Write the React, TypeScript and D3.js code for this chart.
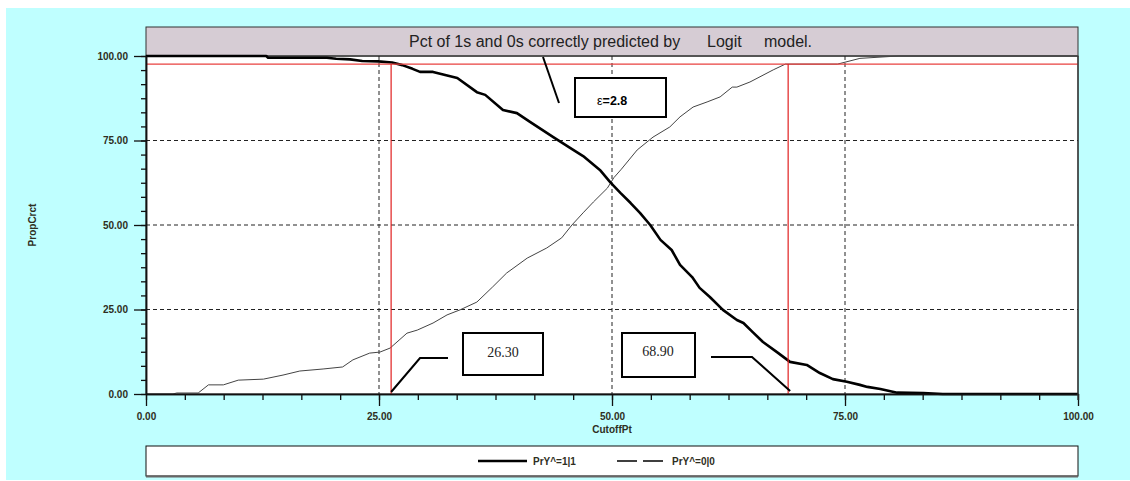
import { useEffect, useRef } from "react";
import * as d3 from "d3";

// PrY^=1|1 curve (thick)
const cutoffsOne = [0, 12.9, 13.1, 19.4, 20.4, 21.9, 23.2, 24.9, 26.4, 27.5, 28.6, 29.4, 30.8, 33.4, 35.5, 36.4, 38.3, 39.8, 41.2, 43.7, 45.5, 46.9, 48.7, 49.8, 50.9, 52, 53, 54.1, 55.2, 56.4, 57.3, 58.6, 59.4, 60.5, 61.9, 63.4, 64.1, 65.1, 66.2, 67.7, 69.1, 70.9, 72.3, 73.7, 75.2, 76.6, 77.4, 78.8, 80.6, 83.4, 85.5, 100];
const pctOne = [100, 100, 99.5, 99.5, 99.2, 99, 98.5, 98.4, 98.1, 97.3, 96.2, 95.3, 95.3, 93.5, 89.3, 88.5, 84, 83.1, 80.5, 76, 72.8, 70.4, 66.3, 62.7, 59.5, 56.5, 53.6, 50, 45.6, 42.6, 38.2, 34.6, 31.4, 28.7, 24.9, 21.9, 21, 18.3, 15.4, 12.4, 9.5, 8.6, 6.2, 4.4, 3.6, 2.7, 2.1, 1.5, 0.4, 0.3, 0, 0];

// PrY^=0|0 curve (thin)
const cutoffsZero = [0, 2.9, 3.3, 5.6, 6.7, 8.3, 9.9, 12.6, 14.7, 16.5, 19, 21.1, 22.2, 24, 25.1, 26.2, 28, 29.1, 30.8, 32.3, 33.7, 35.5, 37.2, 38.7, 40.9, 43, 44.6, 45.7, 46.9, 48, 49.5, 50.2, 51, 52.7, 54.4, 56.2, 57.3, 58.7, 60.2, 61.6, 62.9, 63.4, 64.8, 67.3, 68.6, 74.2, 76.6, 80.7, 100];
const pctZero = [0, 0, 0.3, 0.3, 2.7, 2.7, 4.1, 4.4, 5.6, 6.8, 7.4, 8, 10.1, 12.1, 12.4, 13.6, 18, 18.9, 21, 23.4, 24.9, 27.2, 31.7, 35.8, 40.2, 43.2, 46.2, 50, 53.6, 56.8, 60.9, 64, 66.5, 72.2, 76, 79, 82, 84.9, 86.4, 87.9, 90.8, 90.8, 92.3, 95.9, 97.6, 97.6, 99.3, 100, 100];

const majorTicks = [0, 25, 50, 75, 100];
const gridTicks = [25, 50, 75];
const markerCutoffs = [26.3, 68.9];
const markerLabels = ["26.30", "68.90"];
const thresholdPct = 97.6;
const epsilonValue = "2.8";
const legendLabels = ["PrY^=1|1", "PrY^=0|0"];

const W = 1130;
const H = 481;
const PL = 146, PR = 1078, PT = 56, PB = 394;
const SANS = "'Liberation Sans', Arial, sans-serif";
const SERIF = "'Liberation Serif', 'Times New Roman', serif";
const CYAN = "#BFFFFF";
const INK = "#2e2e22";

export default function App() {
  const xAxisRef = useRef<SVGGElement>(null);
  const yAxisRef = useRef<SVGGElement>(null);
  const xMinorRef = useRef<SVGGElement>(null);
  const yMinorRef = useRef<SVGGElement>(null);

  const x = d3.scaleLinear().domain([0, 100]).range([PL, PR]);
  const y = d3.scaleLinear().domain([0, 100]).range([PB, PT]);
  const minor = d3.range(0, 100.001, 25 / 6);

  useEffect(() => {
    const fmt = d3.format(".2f");
    const style = (g: any) => {
      g.selectAll("text")
        .attr("font-family", SANS)
        .attr("font-size", 10)
        .attr("font-weight", "bold")
        .attr("fill", INK);
      g.selectAll("line").attr("stroke", "#111").attr("stroke-width", 1.3);
      g.select(".domain").attr("stroke", "#111").attr("stroke-width", 1.5);
    };
    d3.select(xMinorRef.current!)
      .call(d3.axisBottom(x).tickValues(minor).tickSize(6).tickSizeOuter(0).tickFormat(() => ""))
      .call(style);
    d3.select(yMinorRef.current!)
      .call(d3.axisLeft(y).tickValues(minor).tickSize(5).tickSizeOuter(0).tickFormat(() => ""))
      .call(style);
    d3.select(xAxisRef.current!)
      .call(d3.axisBottom(x).tickValues(majorTicks).tickSize(12).tickSizeOuter(0).tickPadding(7).tickFormat((d: any) => fmt(d)))
      .call(style);
    d3.select(yAxisRef.current!)
      .call(d3.axisLeft(y).tickValues(majorTicks).tickSize(12).tickSizeOuter(0).tickPadding(6).tickFormat((d: any) => fmt(d)))
      .call(style);
  }, []);

  const curve = d3.line<[number, number]>().x((d) => x(d[0])).y((d) => y(d[1]));
  const pathOne = curve(cutoffsOne.map((c, i) => [c, pctOne[i]]));
  const pathZero = curve(cutoffsZero.map((c, i) => [c, pctZero[i]]));

  const yThr = y(thresholdPct);
  const x1 = x(markerCutoffs[0]);
  const x2 = x(markerCutoffs[1]);

  return (
    <div style={{ position: "absolute", left: 0, top: 0 }}>
      <svg width={W} height={H} style={{ display: "block", background: "#fff" }}>
        <rect x={6} y={8} width={W - 6} height={472} fill={CYAN} />

        {/* plot area */}
        <rect x={PL} y={PT} width={PR - PL} height={PB - PT} fill="#fff" stroke="#333" strokeWidth={1} />

        {/* title band */}
        <rect x={PL} y={27} width={PR - PL} height={PT - 27} fill="#D6CCD4" stroke="#333" strokeWidth={1} />
        <line x1={PL} x2={PR} y1={PT} y2={PT} stroke="#555" strokeWidth={2} />
        <text y={47} fontFamily={SANS} fontSize={16} fill="#222">
          <tspan x={409}>Pct of 1s and 0s correctly predicted by</tspan>
          <tspan x={707}>Logit</tspan>
          <tspan x={764}>model.</tspan>
        </text>

        {/* grid */}
        {gridTicks.map((t) => (
          <g key={t}>
            <line x1={PL} x2={PR} y1={y(t)} y2={y(t)} stroke="#222" strokeWidth={1} strokeDasharray="4,3" />
            <line x1={x(t)} x2={x(t)} y1={PT} y2={PB} stroke="#222" strokeWidth={1} strokeDasharray="4,3" />
          </g>
        ))}

        {/* curves */}
        <path d={pathZero ?? ""} fill="none" stroke="#444" strokeWidth={1} />
        <path d={pathOne ?? ""} fill="none" stroke="#000" strokeWidth={2.6} strokeLinejoin="round" />

        {/* threshold and cutoff markers */}
        <line x1={PL} x2={PR} y1={yThr} y2={yThr} stroke="#E8403F" strokeWidth={1.2} />
        {markerCutoffs.map((c) => (
          <line key={c} x1={x(c)} x2={x(c)} y1={yThr} y2={PB} stroke="#E02020" strokeWidth={1.2} />
        ))}

        {/* epsilon annotation */}
        <line x1={543} y1={57} x2={559} y2={103} stroke="#000" strokeWidth={2} />
        <rect x={575} y={78} width={91} height={39} fill="#fff" stroke="#000" strokeWidth={2} />
        <text x={597} y={105} fontFamily={SANS} fontSize={12.5} fill="#000">
          <tspan>ε</tspan>
          <tspan fontWeight="bold">={epsilonValue}</tspan>
        </text>

        {/* cutoff annotations */}
        <polyline points={`${x1},${PB - 2} 420,358 448,358`} fill="none" stroke="#000" strokeWidth={2} />
        <rect x={463} y={333} width={80} height={42} fill="#fff" stroke="#000" strokeWidth={2} />
        <text x={503} y={357} textAnchor="middle" fontFamily={SERIF} fontSize={14} fill="#222">
          {markerLabels[0]}
        </text>

        <polyline points={`711,357 752,357 ${x2 + 2},${PB - 3}`} fill="none" stroke="#000" strokeWidth={2} />
        <rect x={622} y={333} width={73} height={44} fill="#fff" stroke="#000" strokeWidth={2} />
        <text x={658} y={356} textAnchor="middle" fontFamily={SERIF} fontSize={14} fill="#222">
          {markerLabels[1]}
        </text>

        {/* axes */}
        <g ref={xMinorRef} transform={`translate(0,${PB})`} />
        <g ref={yMinorRef} transform={`translate(${PL},0)`} />
        <g ref={xAxisRef} transform={`translate(0,${PB})`} />
        <g ref={yAxisRef} transform={`translate(${PL},0)`} />
        <line x1={PR} x2={PR} y1={PT} y2={PB + 6} stroke="#333" strokeWidth={1.3} />

        <text x={x(50)} y={433} textAnchor="middle" fontFamily={SANS} fontSize={10} fontWeight="bold" fill={INK}>
          CutoffPt
        </text>
        <text
          transform={`translate(36,${(PT + PB) / 2}) rotate(-90)`}
          textAnchor="middle"
          fontFamily={SANS}
          fontSize={10}
          fontWeight="bold"
          fill={INK}
        >
          PropCrct
        </text>

        {/* legend */}
        <rect x={PL} y={446} width={PR - PL} height={30} fill="#fff" stroke="#111" strokeWidth={1} />
        <line x1={PL} x2={PR} y1={476.5} y2={476.5} stroke="#666" strokeWidth={2} />
        <line x1={478} x2={527} y1={461} y2={461} stroke="#000" strokeWidth={2.5} />
        <text x={533} y={464.5} fontFamily={SANS} fontSize={10} fontWeight="bold" fill={INK}>
          {legendLabels[0]}
        </text>
        <line x1={617} x2={663} y1={461} y2={461} stroke="#000" strokeWidth={1.3} strokeDasharray="20,6" />
        <text x={672} y={464.5} fontFamily={SANS} fontSize={10} fontWeight="bold" fill={INK}>
          {legendLabels[1]}
        </text>
      </svg>
    </div>
  );
}
